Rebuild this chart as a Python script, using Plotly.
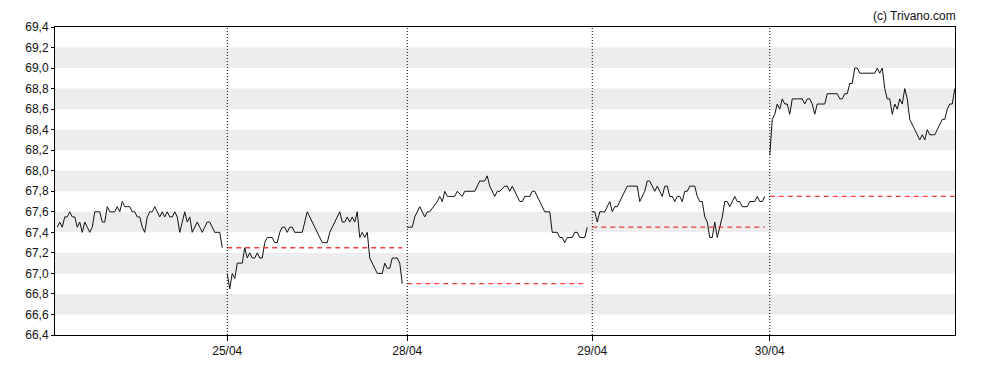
import plotly.graph_objects as go

# ---- data ----
day_labels = ["24/04", "25/04", "28/04", "29/04", "30/04"]
prev_close = [None, 67.25, 66.90, 67.45, 67.75]

# intraday time slots (one empty slot between days) and prices
slots_d1 = list(range(0, 67))
price_d1 = [67.45, 67.5, 67.45, 67.55, 67.55, 67.6, 67.55, 67.55, 67.45, 67.5,
            67.4, 67.5, 67.45, 67.4, 67.45, 67.6, 67.6, 67.6, 67.5, 67.5,
            67.65, 67.6, 67.6, 67.6, 67.65, 67.6, 67.7, 67.65, 67.65, 67.65,
            67.6, 67.6, 67.55, 67.55, 67.45, 67.4, 67.55, 67.6, 67.6, 67.65,
            67.6, 67.55, 67.6, 67.55, 67.6, 67.55, 67.55, 67.6, 67.55, 67.4,
            67.5, 67.6, 67.5, 67.55, 67.4, 67.45, 67.5, 67.45, 67.4, 67.45,
            67.5, 67.5, 67.45, 67.4, 67.4, 67.4, 67.25]

slots_d2 = [68, 69, 70, 71, 72, 73, 74, 75, 76, 77, 78, 79, 80, 81, 82, 83, 84, 85,
            86, 87, 88, 89, 90, 91, 92, 93, 94, 95, 96, 97, 98, 100, 106, 107, 108,
            109, 113, 114, 115, 116, 117, 118, 119, 120, 121, 122, 123, 124, 125,
            128, 129, 130, 131, 132, 133, 134, 135, 136, 137, 138]
price_d2 = [67.0, 66.85, 67.0, 66.95, 67.1, 67.1, 67.1, 67.25, 67.15, 67.2, 67.15,
            67.15, 67.2, 67.15, 67.15, 67.3, 67.35, 67.35, 67.35, 67.3, 67.3, 67.4,
            67.45, 67.45, 67.4, 67.45, 67.45, 67.4, 67.4, 67.4, 67.4, 67.6, 67.3,
            67.3, 67.3, 67.4, 67.6, 67.5, 67.5, 67.55, 67.5, 67.55, 67.5, 67.6,
            67.35, 67.4, 67.35, 67.4, 67.15, 67.0, 67.0, 67.0, 67.1, 67.05, 67.05,
            67.15, 67.15, 67.15, 67.1, 66.9]

slots_d3 = [140, 141, 142, 143, 145, 147, 148, 149, 152, 153, 154, 155, 156, 157,
            158, 159, 160, 162, 163, 164, 165, 166, 167, 169, 170, 171, 172, 173,
            175, 176, 177, 179, 180, 181, 182, 185, 186, 187, 188, 189, 190, 191,
            195, 196, 197, 198, 199, 200, 201, 202, 203, 204, 205, 206, 207, 208,
            209, 210, 211, 212]
price_d3 = [67.45, 67.45, 67.45, 67.55, 67.65, 67.55, 67.6, 67.6, 67.7, 67.75, 67.7,
            67.8, 67.75, 67.75, 67.75, 67.75, 67.8, 67.75, 67.8, 67.8, 67.8, 67.8,
            67.8, 67.9, 67.9, 67.9, 67.95, 67.85, 67.75, 67.8, 67.8, 67.85, 67.85,
            67.8, 67.85, 67.7, 67.7, 67.75, 67.75, 67.75, 67.8, 67.8, 67.6, 67.6,
            67.6, 67.4, 67.4, 67.4, 67.35, 67.35, 67.3, 67.35, 67.35, 67.35, 67.4,
            67.4, 67.35, 67.35, 67.35, 67.45]

slots_d4 = [214, 215, 216, 217, 218, 219, 221, 222, 223, 224, 228, 229, 230, 231,
            232, 233, 235, 236, 237, 239, 240, 242, 243, 244, 245, 246, 247, 248,
            249, 250, 251, 252, 253, 254, 255, 256, 257, 258, 259, 260, 261, 262,
            263, 264, 266, 267, 268, 269, 271, 272, 273, 274, 275, 276, 277, 278,
            279, 280, 281, 282, 283]
price_d4 = [67.6, 67.6, 67.5, 67.6, 67.6, 67.6, 67.7, 67.6, 67.65, 67.65, 67.85,
            67.85, 67.85, 67.85, 67.85, 67.7, 67.8, 67.9, 67.9, 67.8, 67.85, 67.75,
            67.85, 67.85, 67.75, 67.75, 67.7, 67.75, 67.75, 67.7, 67.8, 67.8, 67.85,
            67.85, 67.85, 67.75, 67.7, 67.7, 67.55, 67.5, 67.35, 67.35, 67.5, 67.35,
            67.55, 67.7, 67.7, 67.65, 67.75, 67.7, 67.7, 67.65, 67.65, 67.65, 67.7,
            67.7, 67.7, 67.75, 67.7, 67.7, 67.75]

slots_d5 = [285, 286, 287, 288, 289, 290, 291, 292, 293, 294, 295, 296, 297, 298,
            299, 300, 301, 302, 303, 304, 305, 306, 307, 308, 309, 310, 311, 312,
            313, 314, 315, 316, 317, 318, 319, 320, 321, 322, 323, 324, 325, 326,
            327, 328, 329, 330, 331, 332, 333, 334, 335, 336, 337, 338, 339, 340,
            341, 343, 345, 346, 347, 348, 349, 350, 351, 352, 354, 355, 356, 357,
            358, 359]
price_d5 = [68.15, 68.5, 68.55, 68.65, 68.6, 68.7, 68.65, 68.65, 68.55, 68.7, 68.7,
            68.7, 68.7, 68.7, 68.65, 68.7, 68.7, 68.65, 68.55, 68.65, 68.65, 68.65,
            68.65, 68.75, 68.75, 68.75, 68.75, 68.75, 68.7, 68.7, 68.75, 68.75,
            68.85, 68.85, 69.0, 69.0, 68.95, 68.95, 68.95, 68.95, 68.95, 68.95,
            68.95, 69.0, 68.95, 69.0, 68.8, 68.7, 68.7, 68.55, 68.65, 68.6, 68.7,
            68.65, 68.8, 68.7, 68.5, 68.4, 68.3, 68.35, 68.3, 68.4, 68.35, 68.35,
            68.35, 68.4, 68.5, 68.5, 68.6, 68.65, 68.65, 68.8]

y_ticks = [66.4, 66.6, 66.8, 67.0, 67.2, 67.4, 67.6, 67.8, 68.0, 68.2, 68.4, 68.6,
           68.8, 69.0, 69.2, 69.4]
band_pairs = [(66.6, 66.8), (67.0, 67.2), (67.4, 67.6), (67.8, 68.0),
              (68.2, 68.4), (68.6, 68.8), (69.0, 69.2)]

all_slots = [slots_d1, slots_d2, slots_d3, slots_d4, slots_d5]
all_prices = [price_d1, price_d2, price_d3, price_d4, price_d5]

fig = go.Figure()

# alternating grey bands
shapes = []
for lo, hi in band_pairs:
    shapes.append(dict(type="rect", xref="paper", yref="y", x0=0, x1=1, y0=lo, y1=hi,
                       fillcolor="#ededed", line=dict(width=0), layer="below"))

# day separators
for s in all_slots[1:]:
    shapes.append(dict(type="line", xref="x", yref="paper", x0=s[0], x1=s[0], y0=0, y1=1,
                       line=dict(color="black", width=1, dash="1px,2px"), layer="above"))

# price line, one trace per day (no link across sessions)
for s, p in zip(all_slots, all_prices):
    fig.add_trace(go.Scatter(x=s, y=p, mode="lines",
                             line=dict(color="#111111", width=1), hoverinfo="skip"))

# previous-close reference lines
for s, pc in zip(all_slots, prev_close):
    if pc is None:
        continue
    fig.add_trace(go.Scatter(x=[s[0], s[-1]], y=[pc, pc], mode="lines",
                             line=dict(color="rgba(240,40,40,0.9)", width=1.3, dash="5px,4px"),
                             hoverinfo="skip"))

# page body has an 8px margin, so the figure is 8px smaller and offsets reduced by 8
fig.update_layout(
    width=980, height=362,
    margin=dict(l=47, r=33, t=12.5, b=35),
    paper_bgcolor="white", plot_bgcolor="white",
    showlegend=False,
    separators=",.",
    font=dict(family="Liberation Sans, Arial, sans-serif", size=12, color="#111111"),
    shapes=shapes,
    annotations=[dict(text="(c) Trivano.com", xref="paper", yref="paper", x=1.0, y=1.0,
                      xanchor="right", yanchor="middle", xshift=3, yshift=11.5,
                      showarrow=False, font=dict(size=12, color="#111111"))],
)
fig.update_xaxes(range=[-0.9, 359.1], showgrid=False, zeroline=False,
                 tickmode="array", tickvals=[s[0] for s in all_slots[1:]],
                 ticktext=day_labels[1:], ticks="outside", ticklen=5, tickcolor="black",
                 showline=True, linecolor="black", linewidth=1, mirror=True)
fig.update_yaxes(range=[66.4, 69.4], showgrid=False, zeroline=False,
                 tickmode="array", tickvals=y_ticks, tickformat=".1f",
                 ticks="outside", ticklen=3, tickcolor="black",
                 showline=True, linecolor="black", linewidth=1, mirror=True)

fig.write_html("out.html")
